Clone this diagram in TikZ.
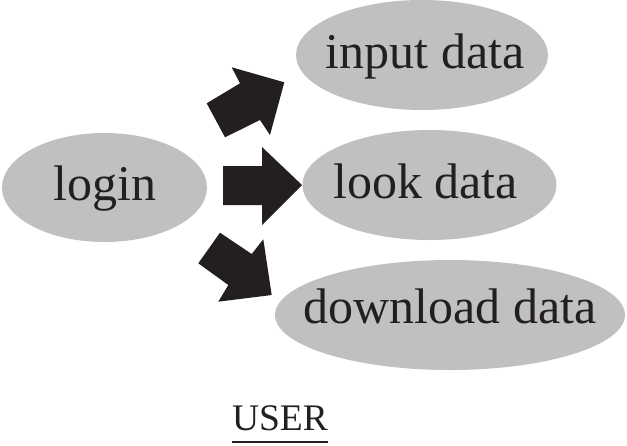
\documentclass[tikz,border=0pt]{standalone}
\usepackage{fontspec}
\setmainfont{Liberation Serif}
\usetikzlibrary{shapes.geometric,calc}
\definecolor{ellgray}{RGB}{192,192,192}
\definecolor{ink}{RGB}{35,31,32}
\tikzset{
  oval/.style={ellipse,fill=ellgray,draw=none,inner sep=0pt},
  lbl/.style={anchor=base,inner sep=0pt,text=ink,font=\fontsize{50}{60}\selectfont},
  blockarrow/.style={fill=ink,draw=none}
}
\begin{document}
\begin{tikzpicture}[x=1pt,y=-1pt]
\useasboundingbox (0,0) rectangle (627,445);
% ellipses
\node[oval,minimum width=205pt,minimum height=109pt] (login) at (104.5,187.5) {};
\node[oval,minimum width=252pt,minimum height=110pt] (input) at (422,55) {};
\node[oval,minimum width=254pt,minimum height=110pt] (look) at (429.5,185) {};
\node[oval,minimum width=350pt,minimum height=110pt] (download) at (450,315) {};
% labels
\node[lbl] (loginT) at (105,200) {login};
\node[lbl] (inputT) at (425,68) {input data};
\node[lbl] (lookT) at (425.5,198) {look data};
\node[lbl] (downloadT) at (450,323) {download data};
% block arrows
\fill[blockarrow] (206.7,103.3) -- (240,83.3) -- (231.7,67.3) -- (284.3,82.3) -- (270,135) -- (260,120) -- (225,137.3) -- cycle;
\fill[blockarrow] (223,166) -- (262,166) -- (262,147) -- (302,185) -- (262,225) -- (262,205) -- (223,205) -- cycle;
\fill[blockarrow] (220,232.7) -- (251.7,254) -- (263.3,239.3) -- (271.7,295) -- (218.3,301.7) -- (228.3,285) -- (198.3,263.3) -- cycle;
% title
\node[anchor=base,inner sep=0pt,text=ink,font=\fontsize{37.5}{45}\selectfont] (user) at (280,430) {USER};
\draw[ink,line width=2pt] ([yshift=-12pt]user.base west) -- ([yshift=-12pt]user.base east);
\end{tikzpicture}
\end{document}
